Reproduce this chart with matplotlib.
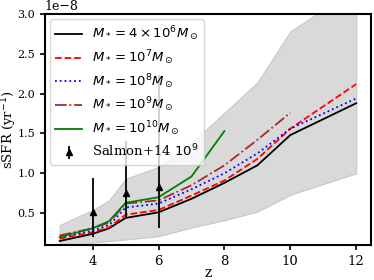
import matplotlib
matplotlib.use("Agg")
import matplotlib.pyplot as plt

plt.rcParams["font.family"] = "DejaVu Serif"
plt.rcParams["mathtext.fontset"] = "dejavusans"

# redshift grid
z = [3, 4, 4.5, 5, 6, 7, 8, 9, 10, 12]

# sSFR in units of 1e-8 / yr
ssfr_4e6 = [0.15, 0.24, 0.31, 0.44, 0.51, 0.68, 0.88, 1.10, 1.48, 1.88]
ssfr_1e7 = [0.18, 0.26, 0.32, 0.48, 0.54, 0.72, 0.91, 1.18, 1.56, 2.12]
ssfr_1e8 = [0.20, 0.28, 0.35, 0.57, 0.62, 0.80, 1.00, 1.25, 1.56, 1.94]
z_1e9 = [3, 4, 4.5, 5, 6, 7, 8, 9, 10]
ssfr_1e9 = [0.22, 0.31, 0.38, 0.62, 0.66, 0.85, 1.10, 1.42, 1.76]
z_1e10 = [3, 4, 4.5, 5, 6, 7, 8]
ssfr_1e10 = [0.20, 0.31, 0.40, 0.63, 0.70, 0.96, 1.53]

# scatter band
band_lo = [0.05, 0.13, 0.15, 0.17, 0.21, 0.32, 0.41, 0.52, 0.73, 1.00]
band_hi = [0.35, 0.54, 0.66, 0.93, 1.08, 1.38, 1.76, 2.14, 2.78, 3.33]

# Salmon+14 observations
z_obs = [4, 5, 6]
ssfr_obs = [0.51, 0.75, 0.83]
err_lo = [0.31, 0.30, 0.52]
err_hi = [0.43, 0.65, 1.40]

scale = 1e-8

fig = plt.figure(figsize=(3.74, 2.80), dpi=100)
ax = fig.add_axes([0.120, 0.125, 0.872, 0.825])

ax.fill_between(z, [v * scale for v in band_lo], [v * scale for v in band_hi],
                color="0.85", edgecolor="0.78", linewidth=0.8)

ax.plot(z, [v * scale for v in ssfr_4e6], color="black", lw=1.3,
        label=r"$M_* = 4\times10^6 M_\odot$")
ax.plot(z, [v * scale for v in ssfr_1e7], color="red", ls="--", lw=1.3,
        label=r"$M_* = 10^7 M_\odot$")
ax.plot(z, [v * scale for v in ssfr_1e8], color="blue", ls=":", lw=1.3,
        label=r"$M_* = 10^8 M_\odot$")
ax.plot(z_1e9, [v * scale for v in ssfr_1e9], color="brown", ls="-.", lw=1.3,
        label=r"$M_* = 10^9 M_\odot$")
ax.plot(z_1e10, [v * scale for v in ssfr_1e10], color="green", lw=1.3,
        label=r"$M_* = 10^{10} M_\odot$")

ax.errorbar(z_obs, [v * scale for v in ssfr_obs],
            yerr=[[v * scale for v in err_lo], [v * scale for v in err_hi]],
            fmt="^", color="black", ms=4, elinewidth=1.3,
            label=r"Salmon+14 $10^9$")

ax.set_ylim(0.1e-8, 3.0e-8)
ax.set_xticks([4, 6, 8, 10, 12])
ax.set_yticks([0.5e-8, 1.0e-8, 1.5e-8, 2.0e-8, 2.5e-8, 3.0e-8])
ax.set_xlabel("z", fontsize=10, labelpad=-1)
ax.set_ylabel(r"sSFR (yr$^{-1}$)", fontsize=9.5)
ax.yaxis.set_label_coords(-0.08, 0.5)
ax.tick_params(axis="x", labelsize=9.5, width=1.2)
ax.tick_params(axis="y", labelsize=8, width=1.2)
ax.yaxis.get_offset_text().set_fontsize(9)
for s in ax.spines.values():
    s.set_linewidth(1.5)

ax.legend(loc="upper left", fontsize=9.5, labelspacing=0.38,
          borderaxespad=0.4)

fig.savefig("out.png", dpi=100)
